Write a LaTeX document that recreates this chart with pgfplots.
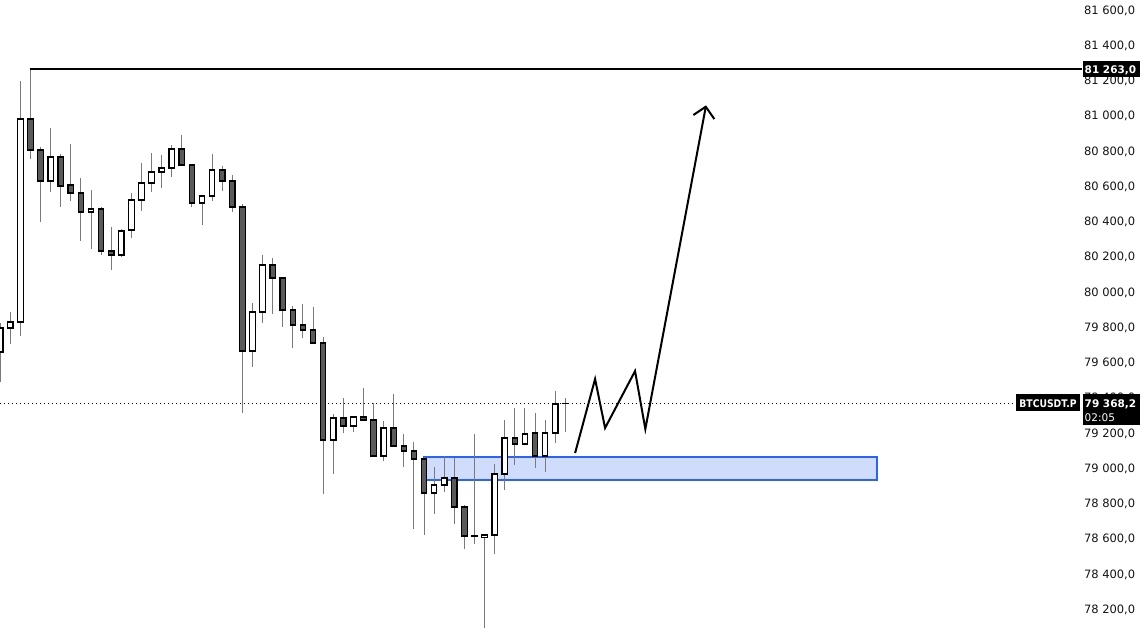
\documentclass[border=0pt]{standalone}
\usepackage{fontspec}
\setmainfont{DejaVu Sans}
\newfontfamily\tv{DejaVu Sans}
\usepackage{graphicx}
\usepackage{pgfplots}
\usepackage{pgfplotstable}
\pgfplotsset{compat=1.18}

\definecolor{bear}{HTML}{5A5A5A}
\definecolor{wick}{HTML}{7A7A7A}
\definecolor{zonefill}{HTML}{D0DCFC}
\definecolor{zoneline}{HTML}{2962FF}

% candles: index, open, high, low, close
\pgfplotstableread{
i  o     h     l     c
3  80981 81263 80754 80806
4  80806 80823 80397 80630
6  80766 80783 80482 80601
7  80607 80840 80516 80561
8  80561 80647 80289 80454
10 80471 80482 80210 80232
11 80232 80369 80125 80210
18 80811 80891 80720 80720
19 80720 80720 80482 80505
22 80692 80715 80573 80630
23 80630 80664 80454 80482
24 80482 80499 79313 79665
27 80153 80193 79875 80079
28 80079 80079 79801 79898
29 79898 79920 79682 79812
30 79812 79932 79739 79784
31 79784 79915 79710 79710
32 79710 79744 78853 79160
34 79285 79398 79199 79239
36 79290 79455 79268 79273
37 79273 79370 79063 79069
39 79228 79421 79126 79126
40 79126 79194 79007 79097
41 79097 79148 78655 79052
42 79052 79063 78621 78859
45 78944 79058 78683 78780
46 78780 78791 78541 78615
47 78615 79194 78570 78615
51 79171 79341 79018 79137
53 79199 79313 79001 79069
56 79368 79398 79205 79368
}\bearish

\pgfplotstableread{
i  o     h     l     c
0  79659 79824 79489 79795
1  79795 79886 79705 79829
2  79829 81197 79750 80981
5  80630 80930 80567 80766
9  80454 80578 80244 80471
12 80210 80357 80198 80346
13 80352 80561 80306 80522
14 80522 80732 80459 80618
15 80618 80788 80567 80681
16 80681 80777 80590 80703
17 80703 80834 80652 80811
20 80505 80550 80380 80544
21 80544 80783 80516 80692
25 79665 79937 79574 79886
26 79886 80210 79824 80153
33 79160 79307 78967 79285
35 79239 79296 79205 79290
38 79069 79268 79041 79228
43 78859 79007 78740 78904
44 78904 79069 78865 78944
48 78609 78621 78093 78621
49 78621 79024 78513 78967
50 78967 79273 78876 79171
52 79137 79341 79137 79194
54 79069 79273 78978 79199
55 79199 79438 79143 79364
}\bullish

\pgfplotsset{
  wicks/.style={draw=none, mark=none, forget plot,
    error bars/.cd, y dir=minus, y explicit, error mark=none,
    error bar style={draw=wick, line width=1pt}},
  bodyline/.style={draw=none, mark=none, forget plot,
    error bars/.cd, y dir=minus, y explicit, error mark=none,
    error bar style={draw=black, line width=6.7pt}},
  bodyfill/.style={draw=none, mark=none, forget plot,
    error bars/.cd, y dir=minus, y explicit, error mark=none,
    error bar style={draw=#1, line width=4.3pt}},
}

\begin{document}
\begin{tikzpicture}
\begin{axis}[
  width=1082pt, height=634pt, scale only axis,
  xmin=-0.02, xmax=107.2, ymin=78059, ymax=81656.75,
  axis line style={draw=none}, tick style={draw=none},
  xtick=\empty,
  ytick={78200,78400,78600,78800,79000,79200,79400,79600,79800,80000,80200,80400,80600,80800,81000,81200,81400,81600},
  yticklabel pos=right,
  scaled y ticks=false,
  yticklabel style={font=\tv\fontsize{11.5}{13}\selectfont, text=black!92, anchor=base west, yshift=-4.2pt, xshift=-1.5pt,
    /pgf/number format/.cd, fixed, fixed zerofill, precision=1, use comma, 1000 sep={\ }, assume math mode=true},
  clip=false,
]
% demand zone
\addplot[fill=zonefill, draw=zoneline, line width=1.5pt, forget plot]
  coordinates {(42.0,78933) (86.9,78933) (86.9,79063) (42.0,79063)} -- cycle;
% last price line
\addplot[black, line width=0.9pt, dash pattern=on 0.9pt off 3.1pt]
  coordinates {(-0.02,79368.2) (100.7,79368.2)};

% wicks
\addplot[wicks] table[x=i, y=h, y error minus expr={\thisrow{h}-\thisrow{l}}] {\bearish};
\addplot[wicks] table[x=i, y=h, y error minus expr={\thisrow{h}-\thisrow{l}}] {\bullish};
% bodies
\addplot[bodyline] table[x=i, y expr={max(\thisrow{o},\thisrow{c})+3.7},
  y error minus expr={abs(\thisrow{o}-\thisrow{c})+7.4}] {\bearish};
\addplot[bodyfill=bear] table[x=i, y expr={max(\thisrow{o},\thisrow{c})-3.7},
  y error minus expr={max(abs(\thisrow{o}-\thisrow{c})-7.4,0)}] {\bearish};
\addplot[bodyline] table[x=i, y expr={max(\thisrow{o},\thisrow{c})+3.7},
  y error minus expr={abs(\thisrow{o}-\thisrow{c})+7.4}] {\bullish};
\addplot[bodyfill=white] table[x=i, y expr={max(\thisrow{o},\thisrow{c})-3.7},
  y error minus expr={max(abs(\thisrow{o}-\thisrow{c})-7.4,0)}] {\bullish};

% high level
\addplot[black, line width=1.8pt] coordinates {(2.95,81263) (107.2,81263)};
% projected path
\addplot[black, line width=2pt] coordinates {
  (56.97,79086) (58.95,79506) (59.94,79228) (62.91,79551) (63.93,79222) (69.92,81051)};
\addplot[black, line width=2pt] coordinates {(68.69,81004) (69.92,81051) (70.77,80981)};

\coordinate (hl) at (axis cs:107.2,81263);
\coordinate (pl) at (axis cs:107.2,79368.2);
\end{axis}

% price labels
\fill[black] ([xshift=1pt,yshift=8pt]hl) rectangle ([xshift=58pt,yshift=-8pt]hl);
\node[anchor=base west, inner sep=0pt, text=white, font=\tv\bfseries\fontsize{10.5}{13}\selectfont]
  at ([xshift=2.5pt,yshift=-4pt]hl) {81\ 263,0};

\fill[black] ([xshift=-66pt,yshift=9pt]pl) rectangle ([xshift=-2pt,yshift=-8pt]pl);
\node[anchor=base, inner sep=0pt, text=white, font=\tv\bfseries\fontsize{10.5}{12}\selectfont]
  at ([xshift=-34pt,yshift=-4pt]pl) {\scalebox{0.88}[1]{BTCUSDT.P}};

\fill[black] ([xshift=1pt,yshift=9pt]pl) rectangle ([xshift=58pt,yshift=-22pt]pl);
\node[anchor=base west, inner sep=0pt, text=white, font=\tv\bfseries\fontsize{10.5}{13}\selectfont]
  at ([xshift=2.5pt,yshift=-4pt]pl) {79\ 368,2};
\node[anchor=base west, inner sep=0pt, text=white, font=\tv\fontsize{10.5}{13}\selectfont]
  at ([xshift=2.5pt,yshift=-18pt]pl) {02:05};

\pgfresetboundingbox
\path (0,0) rectangle (1148pt,634pt);
\end{tikzpicture}
\end{document}
